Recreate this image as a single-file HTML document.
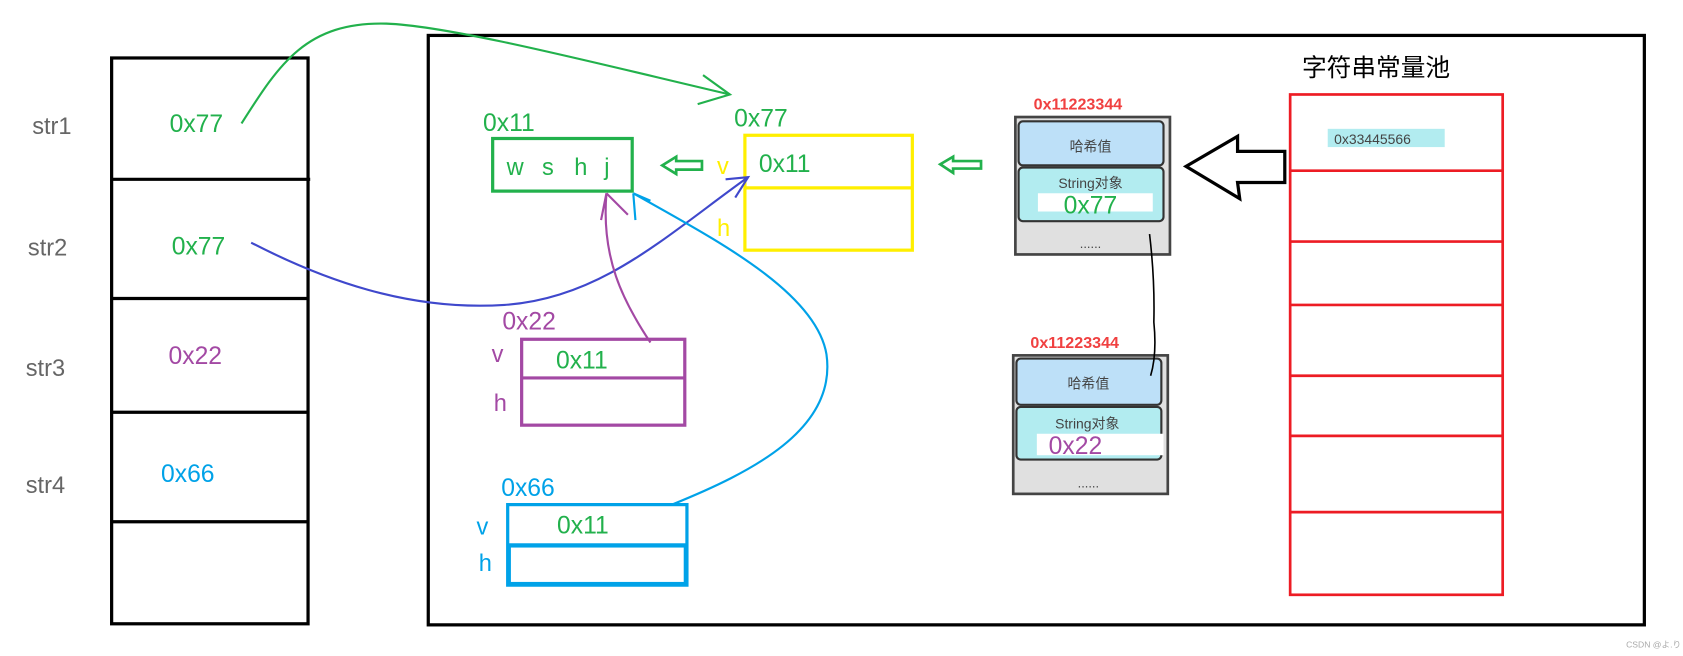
<!DOCTYPE html>
<html><head><meta charset="utf-8"><style>
html,body{margin:0;padding:0;background:#fff;}
svg{display:block;}
text{font-family:"Liberation Sans","Noto Sans CJK SC",sans-serif;}
</style></head><body>
<svg width="1683" height="656" viewBox="0 0 1568 611" preserveAspectRatio="none" xmlns="http://www.w3.org/2000/svg">
<rect width="1568" height="611" fill="#fff"/>
<rect x="104" y="54" width="183" height="527" fill="none" stroke="#000" stroke-width="3"/>
<g stroke="#000" stroke-width="3">
<line x1="104" y1="167" x2="289" y2="167"/><line x1="104" y1="278" x2="287" y2="278"/>
<line x1="104" y1="384" x2="287" y2="384"/><line x1="104" y1="486" x2="287" y2="486"/>
</g>
<g font-size="22" fill="#666"><text x="30" y="125">str1</text><text x="26" y="238">str2</text><text x="24" y="350">str3</text><text x="24" y="459">str4</text></g>
<g font-size="23">
<text x="158" y="123" fill="#22b14c">0x77</text><text x="160" y="237" fill="#22b14c">0x77</text>
<text x="157" y="339" fill="#a349a4">0x22</text><text x="150" y="449" fill="#00a2e8">0x66</text></g>
<rect x="399" y="33" width="1133" height="549" fill="none" stroke="#000" stroke-width="3"/>
<text x="450" y="122" font-size="23" fill="#22b14c">0x11</text>
<rect x="459" y="129" width="130" height="49" fill="none" stroke="#22b14c" stroke-width="3"/>
<g font-size="22" fill="#22b14c"><text x="472" y="163">w</text><text x="505" y="163">s</text><text x="535" y="163">h</text><text x="563" y="163">j</text></g>
<text x="684" y="118" font-size="23" fill="#22b14c">0x77</text>
<rect x="694" y="126" width="156" height="107" fill="none" stroke="#ffef00" stroke-width="3"/>
<line x1="694" y1="175" x2="850" y2="175" stroke="#ffef00" stroke-width="3"/>
<text x="668" y="162" font-size="22" fill="#ffef00">v</text><text x="668" y="220" font-size="22" fill="#ffef00">h</text>
<text x="707" y="160" font-size="23" fill="#22b14c">0x11</text>
<text x="468" y="307" font-size="23" fill="#a349a4">0x22</text>
<rect x="486" y="316" width="152" height="80" fill="none" stroke="#a349a4" stroke-width="3"/>
<line x1="486" y1="352" x2="638" y2="352" stroke="#a349a4" stroke-width="3"/>
<text x="458" y="337" font-size="22" fill="#a349a4">v</text><text x="460" y="383" font-size="22" fill="#a349a4">h</text>
<text x="518" y="343" font-size="23" fill="#22b14c">0x11</text>
<text x="467" y="462" font-size="23" fill="#00a2e8">0x66</text>
<rect x="473" y="470" width="167" height="75" fill="none" stroke="#00a2e8" stroke-width="3"/>
<rect x="474" y="508" width="165" height="36" fill="none" stroke="#00a2e8" stroke-width="4"/>
<text x="444" y="498" font-size="22" fill="#00a2e8">v</text><text x="446" y="532" font-size="22" fill="#00a2e8">h</text>
<text x="519" y="497" font-size="23" fill="#22b14c">0x11</text>
<path d="M617 154 L630 146 L630 150 L654 150 L654 158 L630 158 L630 162 Z" fill="none" stroke="#22b14c" stroke-width="2.5"/>
<path d="M876 153 L888 146 L888 150 L914 150 L914 157 L888 157 L888 161 Z" fill="none" stroke="#22b14c" stroke-width="2.5"/>
<g>
<text x="963" y="102" font-size="15" font-weight="bold" fill="#f04040">0x11223344</text>
<rect x="946" y="109" width="144" height="128" fill="#e0e0e0" stroke="#444" stroke-width="2.5"/>
<rect x="949" y="113" width="135" height="41" rx="4" fill="#bde0f8" stroke="#333" stroke-width="2"/>
<text x="1016" y="141" font-size="13" fill="#444" text-anchor="middle">哈希值</text>
<rect x="949" y="156" width="135" height="50" rx="4" fill="#b2ecf0" stroke="#333" stroke-width="2"/>
<text x="1016" y="175" font-size="13" fill="#444" text-anchor="middle">String对象</text>
<rect x="967" y="180" width="107" height="17" fill="#fff"/>
<text x="991" y="199" font-size="23" fill="#22b14c">0x77</text>
<text x="1016" y="231" font-size="12" fill="#444" text-anchor="middle">......</text>
</g>
<g>
<text x="960" y="324" font-size="15" font-weight="bold" fill="#f04040">0x11223344</text>
<rect x="944" y="331" width="144" height="129" fill="#e0e0e0" stroke="#444" stroke-width="2.5"/>
<rect x="947" y="334" width="135" height="43" rx="4" fill="#bde0f8" stroke="#333" stroke-width="2"/>
<text x="1014" y="362" font-size="13" fill="#444" text-anchor="middle">哈希值</text>
<rect x="947" y="379" width="135" height="49" rx="4" fill="#b2ecf0" stroke="#333" stroke-width="2"/>
<text x="1013" y="399" font-size="13" fill="#444" text-anchor="middle">String对象</text>
<rect x="966" y="404" width="118" height="20" fill="#fff"/>
<text x="977" y="423" font-size="23" fill="#a349a4">0x22</text>
<text x="1014" y="454" font-size="12" fill="#444" text-anchor="middle">......</text>
</g>
<path d="M1071 218 Q1076 260 1075 300 Q1078 330 1072 350" fill="none" stroke="#000" stroke-width="1.5"/>
<path d="M1105 155 L1153 127 L1153 141 L1197 141 L1197 170 L1153 170 L1155 185 Z" fill="#fff" stroke="#000" stroke-width="3"/>
<text x="1213" y="71" font-size="23" fill="#000">字符串常量池</text>
<rect x="1202" y="88" width="198" height="466" fill="none" stroke="#ed1c24" stroke-width="2.5"/>
<g stroke="#ed1c24" stroke-width="2.5">
<line x1="1202" y1="159" x2="1400" y2="159"/><line x1="1202" y1="225" x2="1400" y2="225"/>
<line x1="1202" y1="284" x2="1400" y2="284"/><line x1="1202" y1="350" x2="1400" y2="350"/>
<line x1="1202" y1="406" x2="1400" y2="406"/><line x1="1202" y1="477" x2="1400" y2="477"/></g>
<rect x="1237" y="120" width="109" height="17" fill="#b2ecf0"/>
<text x="1243" y="134" font-size="13" fill="#444">0x33445566</text>
<path d="M225 115 C260 60 285 20 360 22 C420 24 560 60 680 88" fill="none" stroke="#22b14c" stroke-width="2"/>
<path d="M655 70 L680 88 L650 97" fill="none" stroke="#22b14c" stroke-width="2"/>
<path d="M234 226 C300 260 380 290 470 284 C560 278 620 220 697 165" fill="none" stroke="#3f48cc" stroke-width="2"/>
<path d="M676 167 L697 165 L685 184" fill="none" stroke="#3f48cc" stroke-width="2"/>
<path d="M606 319 C580 280 560 240 565 180 L560 205 M565 180 L585 200" fill="none" stroke="#a349a4" stroke-width="2"/>
<path d="M626 470 C700 440 780 400 770 330 C760 270 660 220 590 180 M590 180 L592 205 M590 180 L606 187" fill="none" stroke="#00a2e8" stroke-width="2"/>
<text x="1515" y="603" font-size="8" fill="#aaa">CSDN @よ.り</text>
</svg>
</body></html>
